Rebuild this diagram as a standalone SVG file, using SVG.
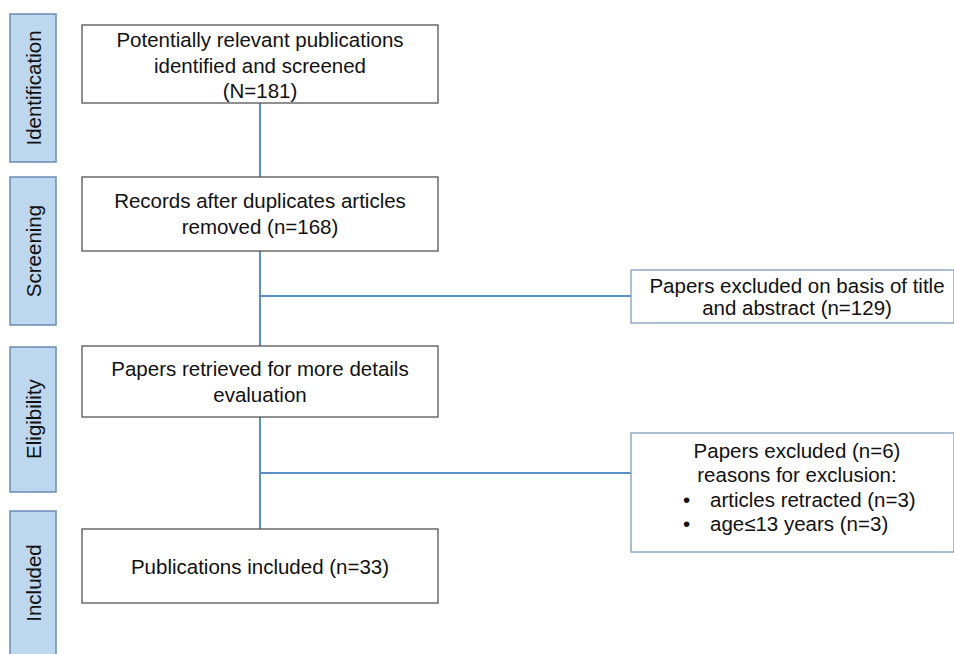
<svg xmlns="http://www.w3.org/2000/svg" width="954" height="654" viewBox="0 0 954 654">
<style>
.bar{fill:#bdd7ee;stroke:#6a8db5;stroke-width:1.5}
.box{fill:#fff;stroke:#555;stroke-width:1.3}
.rbox{fill:#fff;stroke:#7f9cbd;stroke-width:1.3}
.t{font-family:"Liberation Sans",Arial,sans-serif;font-size:20.5px;fill:#111;text-anchor:middle}
.tl{font-family:"Liberation Sans",Arial,sans-serif;font-size:20.5px;fill:#111}
.c{stroke:#5b8fc4;stroke-width:2;fill:none}
</style>
<rect width="954" height="654" fill="#fff"/>
<g id="stage-identification"><rect class="bar" x="10" y="14" width="46" height="148"/><text class="t" transform="translate(41,88) rotate(-90)">Identification</text></g>
<g id="stage-screening"><rect class="bar" x="10" y="177" width="46" height="148"/><text class="t" transform="translate(41,251) rotate(-90)">Screening</text></g>
<g id="stage-eligibility"><rect class="bar" x="10" y="347" width="46" height="145"/><text class="t" transform="translate(41,419) rotate(-90)">Eligibility</text></g>
<g id="stage-included"><rect class="bar" x="10" y="511" width="46" height="150"/><text class="t" transform="translate(41,583) rotate(-90)">Included</text></g>
<g id="connectors">
<line class="c" x1="260" y1="103" x2="260" y2="177"/>
<line class="c" x1="260" y1="251" x2="260" y2="346"/>
<line class="c" x1="260" y1="296" x2="631" y2="296"/>
<line class="c" x1="260" y1="417" x2="260" y2="529"/>
<line class="c" x1="260" y1="473" x2="631" y2="473"/>
</g>
<g id="n1"><rect class="box" x="82" y="25" width="356" height="78"/>
<text class="t" x="260" y="47">Potentially relevant publications</text>
<text class="t" x="260" y="73">identified and screened</text>
<text class="t" x="260" y="98">(N=181)</text></g>
<g id="n2"><rect class="box" x="82" y="177" width="356" height="74"/>
<text class="t" x="260" y="208">Records after duplicates articles</text>
<text class="t" x="260" y="234">removed (n=168)</text></g>
<g id="n3"><rect class="box" x="82" y="346" width="356" height="71"/>
<text class="t" x="260" y="376">Papers retrieved for more details</text>
<text class="t" x="260" y="402">evaluation</text></g>
<g id="n4"><rect class="box" x="82" y="529" width="356" height="74"/>
<text class="t" x="260" y="574">Publications included (n=33)</text></g>
<g id="r1"><rect class="rbox" x="631" y="270" width="323" height="53"/>
<text class="t" x="797" y="293">Papers excluded on basis of title</text>
<text class="t" x="797" y="315">and abstract (n=129)</text></g>
<g id="r2"><rect class="rbox" x="631" y="433" width="323" height="119"/>
<text class="t" x="797" y="458">Papers excluded (n=6)</text>
<text class="t" x="797" y="482">reasons for exclusion:</text>
<text class="tl" x="683" y="507">•</text><text class="tl" x="710" y="507">articles retracted (n=3)</text>
<text class="tl" x="683" y="531">•</text><text class="tl" x="710" y="531">age≤13 years (n=3)</text></g>
</svg>
